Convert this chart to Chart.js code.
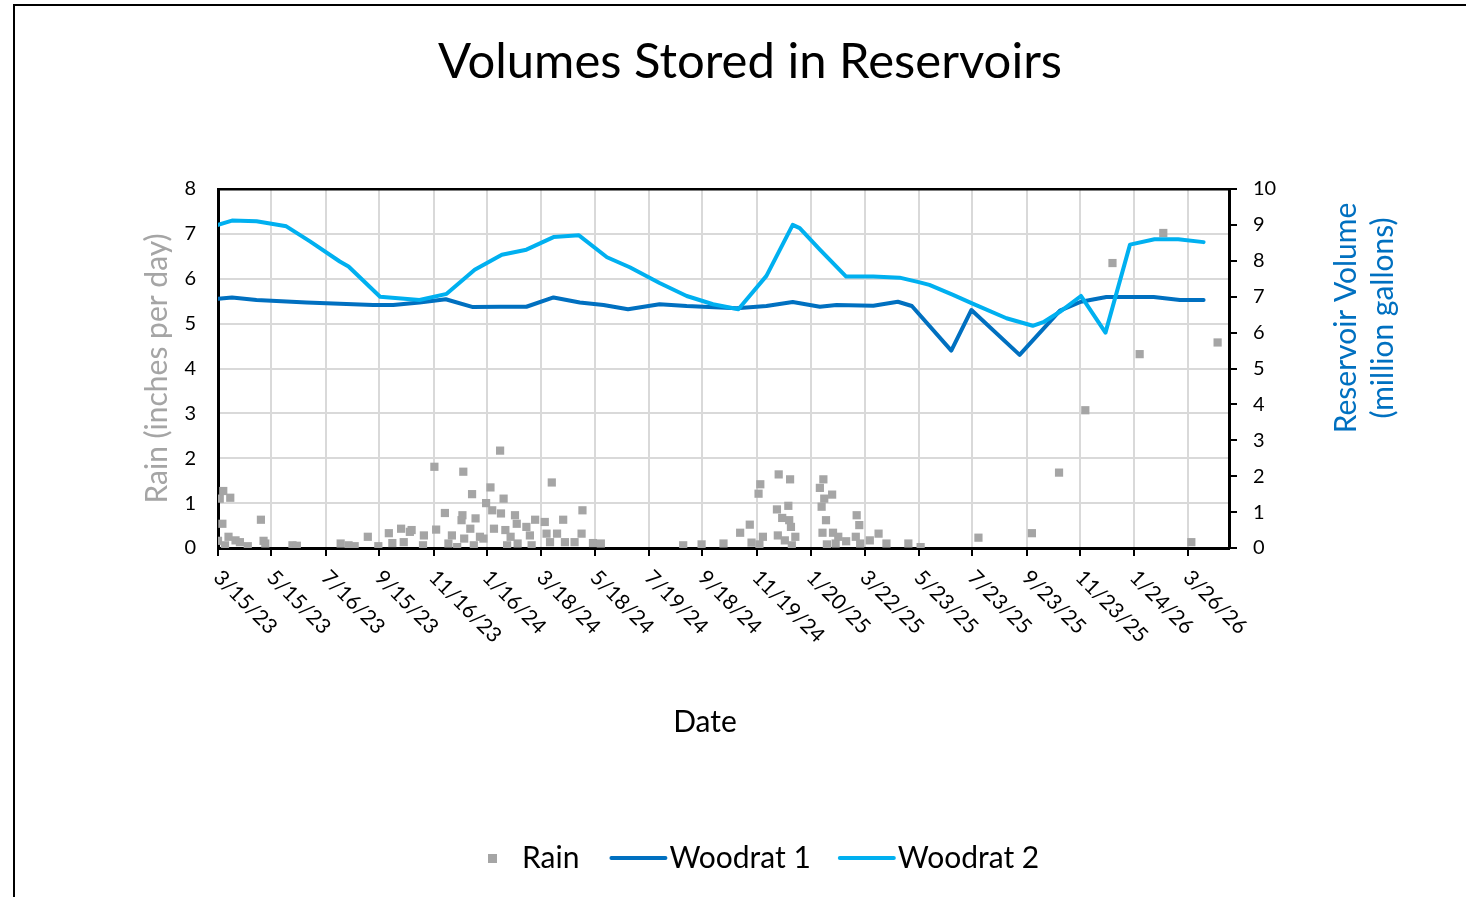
<!DOCTYPE html>
<html>
<head>
<meta charset="utf-8">
<title>Volumes Stored in Reservoirs</title>
<script src="https://cdn.jsdelivr.net/npm/chart.js@4.4.1/dist/chart.umd.min.js"></script>
<style>
  body { margin: 0; overflow: hidden; background: #fff; }
  #frame { position: absolute; left: 13px; top: 4px; width: 1500px; height: 950px; border-left: 2px solid #000; border-top: 2px solid #000; }
  #box { position: absolute; left: 15px; top: 6px; width: 1470px; height: 900px; }
</style>
</head>
<body>
<div id="frame"></div>
<div id="box"><canvas id="chart"></canvas></div>
<script>
// axis labels (Excel date axis, every ~61 days)
var tickLabels = ['3/15/23','5/15/23','7/16/23','9/15/23','11/16/23','1/16/24','3/18/24','5/18/24','7/19/24','9/18/24',
  '11/19/24','1/20/25','3/22/25','5/23/25','7/23/25','9/23/25','11/23/25','1/24/26','3/26/26'];

// reservoir volumes (million gallons)
var woodrat1Dates = ['3/15/23','3/31/23','4/28/23','6/24/23','9/8/23','10/1/23','10/31/23','11/30/23','12/31/23','1/31/24',
  '3/1/24','4/1/24','5/1/24','5/28/24','6/25/24','7/31/24','8/31/24','10/27/24','11/30/24','12/30/24',
  '1/30/25','2/18/25','4/1/25','4/29/25','5/15/25','6/29/25','7/22/25','9/15/25','10/31/25','11/24/25',
  '12/23/25','2/15/26','3/17/26','4/13/26'];
var woodrat1Volume = [6.94,6.98,6.91,6.84,6.77,6.77,6.84,6.93,6.71,6.72,
  6.72,6.98,6.84,6.77,6.65,6.79,6.74,6.68,6.74,6.85,
  6.72,6.77,6.75,6.86,6.74,5.50,6.63,5.38,6.61,6.86,
  6.99,6.99,6.91,6.91];

var woodrat2Dates = ['3/15/23','3/31/23','4/28/23','6/1/23','6/28/23','8/1/23','8/11/23','9/16/23','10/31/23','12/1/23',
  '1/2/24','2/2/24','3/1/24','4/1/24','4/30/24','6/1/24','6/27/24','7/31/24','8/31/24','9/30/24',
  '10/29/24','11/30/24','12/30/24','1/7/25','1/30/25','3/1/25','4/1/25','5/1/25','5/24/25','6/4/25',
  '7/1/25','7/24/25','8/31/25','9/30/25','10/12/25','10/31/25','11/24/25','12/22/25','1/19/26','2/16/26',
  '3/15/26','4/13/26'];
var woodrat2Volume = [9.00,9.12,9.10,8.96,8.54,7.98,7.84,7.00,6.91,7.08,
  7.75,8.17,8.31,8.66,8.71,8.10,7.82,7.38,7.02,6.79,
  6.65,7.58,9.00,8.91,8.31,7.56,7.56,7.53,7.40,7.33,
  7.05,6.80,6.40,6.19,6.29,6.58,7.02,6.00,8.45,8.60,
  8.60,8.52];

// daily rain (inches per day)
var rainDates = ['3/15/23','3/17/23','3/20/23','3/21/23','3/23/23','3/27/23','3/29/23','4/4/23','4/9/23','4/18/23',
  '5/3/23','5/6/23','5/8/23','6/8/23','6/13/23','8/2/23','8/11/23','8/18/23','9/2/23','9/14/23',
  '9/26/23','9/30/23','10/10/23','10/13/23','10/20/23','10/22/23','11/4/23','11/5/23','11/17/23','11/19/23',
  '11/29/23','12/3/23','12/7/23','12/13/23','12/18/23','12/19/23','12/20/23','12/21/23','12/28/23','12/30/23',
  '1/1/24','1/3/24','1/8/24','1/12/24','1/15/24','1/20/24','1/22/24','1/24/24','1/31/24','2/1/24',
  '2/4/24','2/6/24','2/8/24','2/12/24','2/17/24','2/19/24','2/20/24','3/1/24','3/5/24','3/7/24',
  '3/11/24','3/22/24','3/24/24','3/28/24','3/30/24','4/5/24','4/12/24','4/14/24','4/25/24','5/3/24',
  '5/4/24','5/16/24','5/25/24','8/27/24','9/17/24','10/12/24','10/31/24','11/11/24','11/13/24','11/21/24',
  '11/22/24','11/23/24','11/26/24','12/12/24','12/13/24','12/14/24','12/18/24','12/21/24','12/25/24','12/26/24',
  '12/27/24','12/28/24','12/29/24','1/2/25','1/30/25','2/1/25','2/2/25','2/3/25','2/4/25','2/6/25',
  '2/7/25','2/13/25','2/14/25','2/17/25','2/20/25','3/1/25','3/12/25','3/13/25','3/16/25','3/17/25',
  '3/28/25','4/7/25','4/16/25','5/11/25','5/25/25','7/30/25','9/29/25','10/30/25','11/29/25','12/30/25',
  '1/30/26','2/26/26','3/30/26','4/29/26'];
var rainInches = [0.16,1.10,0.54,1.27,0.06,0.25,1.12,0.17,0.13,0.04,
  0.63,0.16,0.10,0.06,0.05,0.10,0.06,0.04,0.25,0.04,
  0.33,0.11,0.43,0.13,0.36,0.40,0.06,0.28,1.81,0.41,
  0.78,0.10,0.28,0.02,0.62,0.73,1.70,0.21,0.43,1.20,
  0.06,0.66,0.25,0.21,1.00,1.35,0.84,0.43,2.17,0.77,
  1.10,0.40,0.06,0.25,0.73,0.54,0.10,0.47,0.28,0.06,
  0.63,0.58,0.32,0.13,1.46,0.32,0.63,0.13,0.13,0.32,
  0.84,0.11,0.10,0.06,0.08,0.10,0.34,0.52,0.12,1.21,
  0.08,1.42,0.25,0.86,0.28,1.64,0.67,0.17,0.94,0.62,
  1.53,0.47,0.06,0.25,1.34,0.92,0.34,1.53,1.10,0.62,
  0.08,1.19,0.34,0.10,0.25,0.15,0.25,0.73,0.51,0.10,
  0.17,0.32,0.10,0.10,0.02,0.23,0.33,1.68,3.07,6.35,
  4.32,7.02,0.13,4.58];

var FONT = 'Lato';

// days since 3/15/23
function toDay(s) {
  var p = s.split('/');
  return (Date.UTC(2000 + Number(p[2]), Number(p[0]) - 1, Number(p[1])) - Date.UTC(2023, 2, 15)) / 86400000;
}
function toPoints(dates, vals) {
  return dates.map(function(d, i) { return { x: toDay(d), y: vals[i] }; });
}

// text Chart.js can't place like Excel: slanted dates, right title, Date, legend
var excelText = {
  id: 'excelText',
  afterDraw: function(chart) {
    var ctx = chart.ctx;
    var xs = chart.scales.x;
    var area = chart.chartArea;
    ctx.save();
    ctx.fillStyle = '#000';
    ctx.font = '21px ' + FONT;
    ctx.textAlign = 'left';
    ctx.textBaseline = 'middle';
    tickLabels.forEach(function(l) {
      var px = xs.getPixelForValue(toDay(l));
      ctx.save();
      ctx.translate(px - 1, area.bottom + 26);
      ctx.rotate(Math.PI / 4);
      ctx.fillText(l, 0, 0);
      ctx.restore();
    });

    ctx.font = '30px ' + FONT;
    ctx.textAlign = 'center';
    ctx.fillText('Date', 690, 716);

    ctx.save();
    ctx.translate(1331, 312);
    ctx.rotate(-Math.PI / 2);
    ctx.fillStyle = '#0070c0';
    ctx.fillText('Reservoir Volume', 0, 0);
    ctx.fillText('(million gallons)', 0, 37);
    ctx.restore();

    // legend
    var ly = 852;
    var x = 473;
    ctx.textAlign = 'left';
    ctx.fillStyle = chart.data.datasets[0].backgroundColor;
    ctx.fillRect(x, ly - 4, 9, 9);
    x += 9 + 25;
    ctx.fillStyle = '#000';
    ctx.fillText('Rain', x, ly);
    x += ctx.measureText('Rain').width + 32;
    [1, 2].forEach(function(i) {
      var ds = chart.data.datasets[i];
      ctx.strokeStyle = ds.borderColor;
      ctx.lineWidth = 4;
      ctx.lineCap = 'round';
      ctx.beginPath();
      ctx.moveTo(x, ly);
      ctx.lineTo(x + 54, ly);
      ctx.stroke();
      x += 58;
      ctx.fillText(ds.label, x, ly);
      x += ctx.measureText(ds.label).width + 29;
    });
    ctx.restore();
  }
};

Chart.defaults.font.family = FONT;
Chart.defaults.color = '#000';

var ctx = document.getElementById('chart').getContext('2d');
var reservoirChart = new Chart(ctx, {
  type: 'scatter',
  data: {
    datasets: [
      {
        label: 'Rain',
        data: toPoints(rainDates, rainInches),
        yAxisID: 'y',
        pointStyle: 'rect',
        pointRadius: 5.8,
        backgroundColor: '#a5a5a5',
        borderWidth: 0,
        order: 3
      },
      {
        type: 'line',
        label: 'Woodrat 1',
        data: toPoints(woodrat1Dates, woodrat1Volume),
        yAxisID: 'y1',
        borderColor: '#0070c0',
        borderWidth: 4,
        borderCapStyle: 'round',
        borderJoinStyle: 'round',
        pointRadius: 0,
        tension: 0,
        order: 2
      },
      {
        type: 'line',
        label: 'Woodrat 2',
        data: toPoints(woodrat2Dates, woodrat2Volume),
        yAxisID: 'y1',
        borderColor: '#00b0f0',
        borderWidth: 4,
        borderCapStyle: 'round',
        borderJoinStyle: 'round',
        pointRadius: 0,
        tension: 0,
        order: 1
      }
    ]
  },
  options: {
    responsive: true,
    maintainAspectRatio: false,
    animation: false,
    layout: { padding: 0 },
    plugins: {
      legend: { display: false },
      tooltip: { enabled: false },
      title: {
        display: true,
        text: 'Volumes Stored in Reservoirs',
        color: '#000',
        font: { family: FONT, size: 49, weight: 'normal' },
        padding: { top: 27, bottom: 97.2 }
      }
    },
    scales: {
      x: {
        type: 'linear',
        min: 0,
        max: 1154,
        afterBuildTicks: function(scale) {
          scale.ticks = tickLabels.map(function(l) { return { value: toDay(l) }; });
        },
        afterFit: function(scale) { scale.height = 358; },
        ticks: { display: false },
        grid: {
          color: function(c) { return c.tick && c.tick.value === 0 ? '#000' : '#d9d9d9'; },
          lineWidth: 2,
          tickColor: '#000',
          tickLength: 8,
          tickWidth: 2
        },
        border: { display: true, color: '#000', width: 3 }
      },
      y: {
        position: 'left',
        min: 0,
        max: 8,
        afterFit: function(scale) { scale.width = 203; },
        ticks: { stepSize: 1, padding: 22, font: { size: 20 }, color: '#000' },
        grid: {
          color: function(c) { return c.tick && (c.tick.value === 0 || c.tick.value === 8) ? '#000' : '#d9d9d9'; },
          lineWidth: function(c) { return c.tick && (c.tick.value === 0 || c.tick.value === 8) ? 2.5 : 2; },
          drawTicks: false
        },
        border: { display: true, color: '#000', width: 3 },
        title: {
          display: true,
          text: 'Rain (inches per day)',
          color: '#a5a5a5',
          font: { size: 30 },
          padding: { top: 124, bottom: 0 }
        }
      },
      y1: {
        position: 'right',
        min: 0,
        max: 10,
        afterFit: function(scale) { scale.width = 256; },
        ticks: { stepSize: 1, padding: 16, font: { size: 20 }, color: '#000' },
        grid: {
          drawOnChartArea: false,
          color: '#000',
          lineWidth: 2,
          tickLength: 8
        },
        border: { display: true, color: '#000', width: 3 }
      }
    }
  },
  plugins: [excelText]
});
</script>
</body>
</html>
